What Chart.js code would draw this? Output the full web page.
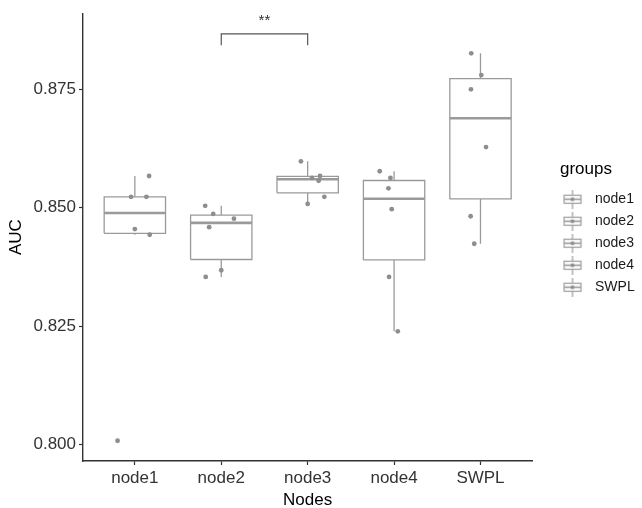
<!DOCTYPE html>
<html>
<head>
<meta charset="utf-8">
<script src="https://cdn.jsdelivr.net/npm/chart.js@4"></script>
<style>
  html, body { margin: 0; padding: 0; background: #fff; }
  #wrap { width: 642px; height: 508px; }
</style>
</head>
<body>
<div id="wrap"><canvas id="aucChart" width="642" height="508"></canvas></div>
<script>
// groups on the x axis
const categories = ['node1', 'node2', 'node3', 'node4', 'SWPL'];

// AUC per fold
const node1Auc = [0.8567, 0.8523, 0.8523, 0.8455, 0.8443, 0.8008];
const node2Auc = [0.8504, 0.8487, 0.8477, 0.8459, 0.8368, 0.8354];
const node3Auc = [0.8598, 0.8567, 0.8563, 0.8557, 0.8523, 0.8508];
const node4Auc = [0.8577, 0.8563, 0.8541, 0.8497, 0.8354, 0.8239];
const swplAuc  = [0.8826, 0.8780, 0.8750, 0.8628, 0.8482, 0.8424];

// horizontal jitter of each point (in category units)
const node1Jitter = [0.165, -0.044, 0.134, 0.0, 0.172, -0.2];
const node2Jitter = [-0.186, -0.093, 0.147, -0.14, 0.0, -0.18];
const node3Jitter = [-0.078, 0.143, 0.05, 0.127, 0.193, 0.0];
const node4Jitter = [-0.166, -0.042, -0.065, -0.027, -0.058, 0.043];
const swplJitter  = [-0.107, 0.01, -0.11, 0.064, -0.114, -0.072];

const yTicks = [0.800, 0.825, 0.850, 0.875];

// significance bracket between node2 and node3
const sigPair = [2, 3];
const sigBracketY = [0.8843, 0.8867];
const sigLabel = '**';
const sigLabelY = 0.8894;

const groupAuc = [node1Auc, node2Auc, node3Auc, node4Auc, swplAuc];
const groupJitter = [node1Jitter, node2Jitter, node3Jitter, node4Jitter, swplJitter];

const GREY = '#9a9a9a';
const DOT = '#8e8e8e';
const AXIS = '#333333';
const HALF = 0.355;
const FONT = "'Liberation Sans', Arial, Helvetica, sans-serif";

function quantile(sorted, p) {
  const h = (sorted.length - 1) * p;
  const lo = Math.floor(h);
  return sorted[lo] + (h - lo) * ((sorted[lo + 1] ?? sorted[lo]) - sorted[lo]);
}

function boxStats(vals) {
  const s = [...vals].sort((a, b) => a - b);
  const q1 = quantile(s, 0.25), med = quantile(s, 0.5), q3 = quantile(s, 0.75);
  const iqr = q3 - q1;
  const lo = s.find(v => v >= q1 - 1.5 * iqr);
  const hi = [...s].reverse().find(v => v <= q3 + 1.5 * iqr);
  return { q1, med, q3, lo, hi };
}

const stats = groupAuc.map(boxStats);
const gap = { x: NaN, y: null };

const boxLines = [], medianLines = [], whiskerLines = [];
stats.forEach((st, i) => {
  const c = i + 1;
  boxLines.push({ x: c - HALF, y: st.q1 }, { x: c + HALF, y: st.q1 }, { x: c + HALF, y: st.q3 },
                { x: c - HALF, y: st.q3 }, { x: c - HALF, y: st.q1 }, gap);
  medianLines.push({ x: c - HALF, y: st.med }, { x: c + HALF, y: st.med }, gap);
  whiskerLines.push({ x: c, y: st.lo }, { x: c, y: st.q1 }, gap, { x: c, y: st.q3 }, { x: c, y: st.hi }, gap);
});

// small boxplot key for the legend (drawn in the left part of the canvas)
function legendGlyph() {
  const cv = document.createElement('canvas');
  cv.width = 31; cv.height = 19;
  const g = cv.getContext('2d');
  g.strokeStyle = GREY; g.lineWidth = 1.2;
  g.beginPath(); g.moveTo(10, 0); g.lineTo(10, 19); g.stroke();
  g.fillStyle = '#fff';
  g.fillRect(1, 5, 18, 9);
  g.strokeRect(1.5, 5.5, 17, 8);
  g.lineWidth = 1.6;
  g.beginPath(); g.moveTo(1, 9.5); g.lineTo(19, 9.5); g.stroke();
  g.fillStyle = DOT;
  g.beginPath(); g.arc(10, 9.5, 2, 0, Math.PI * 2); g.fill();
  return cv;
}
const glyph = legendGlyph();

const pointSets = categories.map((name, i) => ({
  label: name,
  data: groupAuc[i].map((v, k) => ({ x: i + 1 + groupJitter[i][k], y: v })),
  backgroundColor: DOT,
  borderWidth: 0,
  pointRadius: 2.4,
  showLine: false
}));

const lineSet = (label, data, width, color) => ({
  label, data, showLine: true, spanGaps: false,
  borderColor: color, borderWidth: width, pointRadius: 0, fill: false
});

const sigText = {
  id: 'sigText',
  afterDatasetsDraw(chart) {
    const { ctx, scales: { x, y } } = chart;
    ctx.save();
    ctx.font = '15px ' + FONT;
    ctx.fillStyle = AXIS;
    ctx.textAlign = 'center';
    ctx.textBaseline = 'middle';
    ctx.fillText(sigLabel, x.getPixelForValue((sigPair[0] + sigPair[1]) / 2), y.getPixelForValue(sigLabelY));
    ctx.restore();
  }
};

// push the legend a bit away from the panel, like ggplot does
const legendNudge = {
  id: 'legendNudge',
  afterLayout(chart) {
    const lg = chart.legend;
    const dx = 560 - lg.left, dy = -28;
    lg.left += dx; lg.right += dx;
    lg.top += dy; lg.bottom += dy;
  }
};

new Chart(document.getElementById('aucChart'), {
  type: 'scatter',
  data: {
    datasets: [
      ...pointSets,
      lineSet('median', medianLines, 2.6, GREY),
      lineSet('whisker', whiskerLines, 1.3, GREY),
      lineSet('box', boxLines, 1.3, GREY),
      lineSet('bracket', [
        { x: sigPair[0], y: sigBracketY[0] }, { x: sigPair[0], y: sigBracketY[1] },
        { x: sigPair[1], y: sigBracketY[1] }, { x: sigPair[1], y: sigBracketY[0] }
      ], 1.2, '#555')
    ]
  },
  options: {
    responsive: false,
    animation: false,
    layout: { padding: { top: 11, right: 25, left: 0, bottom: 0 } },
    plugins: {
      tooltip: { enabled: false },
      legend: {
        position: 'right',
        title: { display: true, text: 'groups', color: '#000', font: { family: FONT, size: 17 }, padding: { top: 0, bottom: 3 }, position: 'start' },
        labels: {
          usePointStyle: true,
          pointStyleWidth: 20,
          padding: 8,
          color: '#1a1a1a',
          font: { family: FONT, size: 14 },
          generateLabels: chart => categories.map((name, i) => ({
            text: name, pointStyle: glyph, datasetIndex: i, hidden: false,
            fillStyle: '#fff', strokeStyle: GREY, lineWidth: 0, fontColor: '#1a1a1a'
          }))
        }
      }
    },
    scales: {
      x: {
        type: 'linear',
        min: 0.4, max: 5.6,
        afterBuildTicks: s => { s.ticks = categories.map((c, i) => ({ value: i + 1 })); },
        afterFit: s => { s.height = 47; },
        ticks: {
          callback: (v, i) => categories[i],
          autoSkip: false, maxRotation: 0, padding: 3,
          color: '#333', font: { family: FONT, size: 17 }
        },
        grid: { display: true, drawOnChartArea: false, drawTicks: true, tickLength: 4, tickColor: AXIS, tickWidth: 1.2 },
        border: { display: true, color: AXIS, width: 1.4 },
        title: { display: true, text: 'Nodes', color: '#000', font: { family: FONT, size: 17 }, padding: { top: 0, bottom: -3 } }
      },
      y: {
        min: 0.79653, max: 0.89107,
        afterBuildTicks: s => { s.ticks = yTicks.map(v => ({ value: v })); },
        afterFit: s => { s.width = 83; },
        ticks: {
          callback: v => v.toFixed(3),
          padding: 3,
          color: '#333', font: { family: FONT, size: 17 }
        },
        grid: { display: true, drawOnChartArea: false, drawTicks: true, tickLength: 4, tickColor: AXIS, tickWidth: 1.2 },
        border: { display: true, color: AXIS, width: 1.4 },
        title: { display: true, text: 'AUC', color: '#000', font: { family: FONT, size: 17 }, padding: { top: 6, bottom: 0 } }
      }
    }
  },
  plugins: [sigText, legendNudge]
});
</script>
</body>
</html>
